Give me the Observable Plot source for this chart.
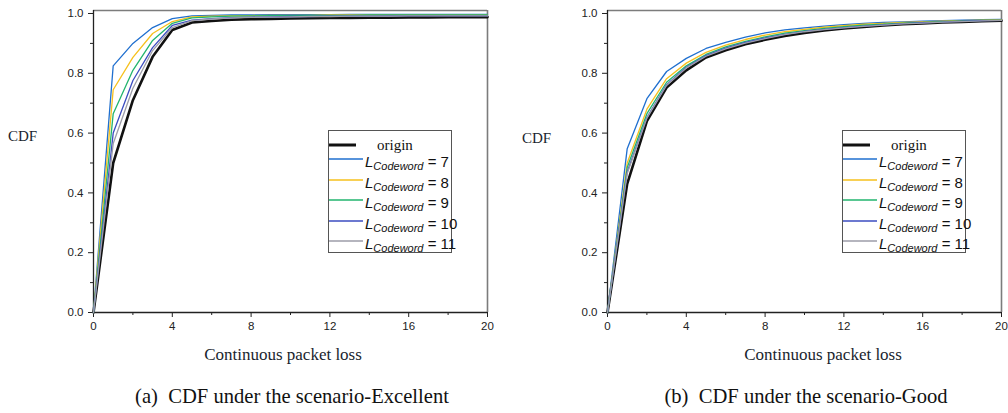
<!DOCTYPE html>
<html>
<head>
<meta charset="utf-8">
<script src="https://cdn.jsdelivr.net/npm/d3@7"></script>
<script src="https://cdn.jsdelivr.net/npm/@observablehq/plot@0.6"></script>
<style>
  html, body { margin: 0; padding: 0; background: #fff; }
  #fig { position: relative; width: 1008px; height: 413px; overflow: hidden; background: #fff; }
  .abs { position: absolute; white-space: pre; }
  .serif { font-family: "Liberation Serif", "Times New Roman", serif; color: #1a1f2e; }
  .ylab { font-size: 15px; line-height: 15px; }
  .xlab { font-size: 17px; line-height: 17px; transform: translate(-50%, -50%); }
  .cap { font-size: 20.6px; line-height: 21px; color: #111; transform: translate(-50%, -50%); }
  .legend { position: absolute; top: 130px; width: 124px; height: 123px; border: 1px solid #555; box-sizing: border-box; background: #fff; }
  .lrow { position: absolute; transform: translateY(-50%); font-family: "Liberation Sans", Arial, sans-serif; font-size: 15px; color: #111; white-space: pre; }
  .lrow sub { font-size: 11px; vertical-align: -3px; line-height: 0; }
  .orow { position: absolute; transform: translateY(-50%); font-family: "Liberation Serif", serif; font-size: 15px; color: #111; }
</style>
</head>
<body>
<div id="fig"></div>
<script>
// Consecutive-loss length on the x axis
const lossLength = [0, 1, 2, 3, 4, 5, 6, 7, 8, 9, 10, 11, 12, 13, 14, 15, 16, 17, 18, 19, 20];

// Series: the original stream and five codeword lengths
const seriesKeys = ["origin", "7", "8", "9", "10", "11"];
const seriesColors = ["#111111", "#1f6fcf", "#f6c01c", "#22b46e", "#3b4cc0", "#9d9da8"];

// Scenario "Excellent"
const excOrigin = [0, 0.50, 0.71, 0.855, 0.945, 0.970, 0.975, 0.979, 0.981, 0.982, 0.983, 0.984, 0.985, 0.985, 0.986, 0.986, 0.987, 0.987, 0.988, 0.988, 0.988];
const excL7     = [0, 0.825, 0.90, 0.953, 0.983, 0.992, 0.994, 0.995, 0.995, 0.996, 0.996, 0.996, 0.996, 0.997, 0.997, 0.997, 0.997, 0.997, 0.997, 0.997, 0.997];
const excL8     = [0, 0.745, 0.853, 0.933, 0.973, 0.989, 0.991, 0.992, 0.993, 0.994, 0.994, 0.994, 0.995, 0.995, 0.995, 0.995, 0.995, 0.995, 0.995, 0.995, 0.995];
const excL9     = [0, 0.665, 0.81, 0.91, 0.967, 0.985, 0.989, 0.991, 0.992, 0.993, 0.993, 0.994, 0.994, 0.994, 0.995, 0.995, 0.995, 0.995, 0.995, 0.995, 0.995];
const excL10    = [0, 0.60, 0.776, 0.886, 0.96, 0.978, 0.983, 0.986, 0.988, 0.989, 0.99, 0.99, 0.991, 0.991, 0.991, 0.992, 0.992, 0.992, 0.992, 0.992, 0.992];
const excL11    = [0, 0.565, 0.75, 0.876, 0.953, 0.976, 0.982, 0.985, 0.987, 0.988, 0.989, 0.99, 0.99, 0.991, 0.991, 0.991, 0.992, 0.992, 0.992, 0.992, 0.992];

// Scenario "Good"
const goodOrigin = [0, 0.43, 0.64, 0.752, 0.81, 0.853, 0.877, 0.897, 0.912, 0.925, 0.935, 0.943, 0.95, 0.955, 0.96, 0.964, 0.967, 0.970, 0.972, 0.974, 0.976];
const goodL7     = [0, 0.548, 0.715, 0.806, 0.85, 0.883, 0.903, 0.921, 0.935, 0.945, 0.952, 0.958, 0.963, 0.967, 0.970, 0.972, 0.974, 0.976, 0.978, 0.979, 0.980];
const goodL8     = [0, 0.50, 0.68, 0.782, 0.834, 0.87, 0.894, 0.913, 0.928, 0.939, 0.947, 0.954, 0.959, 0.964, 0.967, 0.970, 0.972, 0.974, 0.976, 0.978, 0.979];
const goodL9     = [0, 0.485, 0.665, 0.77, 0.825, 0.863, 0.888, 0.907, 0.922, 0.934, 0.943, 0.950, 0.956, 0.961, 0.964, 0.968, 0.970, 0.973, 0.975, 0.977, 0.978];
const goodL10    = [0, 0.47, 0.652, 0.762, 0.82, 0.859, 0.884, 0.903, 0.918, 0.930, 0.940, 0.947, 0.953, 0.958, 0.962, 0.966, 0.969, 0.971, 0.974, 0.976, 0.977];
const goodL11    = [0, 0.465, 0.65, 0.76, 0.818, 0.857, 0.882, 0.901, 0.916, 0.929, 0.939, 0.946, 0.952, 0.957, 0.961, 0.965, 0.968, 0.971, 0.973, 0.975, 0.977];

// Axis ticks
const xMajor = [0, 4, 8, 12, 16, 20];
const xMinor = [2, 6, 10, 14, 18];
const yMajor = [0, 0.2, 0.4, 0.6, 0.8, 1.0];
const yMinor = [0.1, 0.3, 0.5, 0.7, 0.9];

// Text
const yTitle = "CDF";
const xTitle = "Continuous packet loss";
const captions = ["(a)  CDF under the scenario-Excellent", "(b)  CDF under the scenario-Good"];

const fig = document.getElementById("fig");

function toRows(seriesValues) {
  const rows = [];
  seriesKeys.forEach((key, i) => {
    seriesValues[i].forEach((v, j) => rows.push({key, loss: lossLength[j], cdf: v}));
  });
  return rows;
}

function panel(seriesValues, offsetX) {
  const rows = toRows(seriesValues);
  const base = rows.filter(d => d.key === "origin");
  const coded = rows.filter(d => d.key !== "origin");
  const chart = Plot.plot({
    width: 500,
    height: 340,
    marginLeft: 93,
    marginRight: 13,
    marginTop: 10,
    marginBottom: 28,
    x: {domain: [0, 20], axis: null},
    y: {domain: [0, 1.01], axis: null},
    color: {domain: seriesKeys, range: seriesColors},
    style: {fontFamily: "'Liberation Sans', Arial, sans-serif", fontSize: "11.5px", color: "#222", background: "transparent", overflow: "visible"},
    marks: [
      Plot.ruleY([1.01], {stroke: "#7c7c7c", strokeWidth: 1.6}),
      Plot.ruleX([20], {stroke: "#7c7c7c", strokeWidth: 1.6}),
      Plot.axisX(xMajor, {tickSize: 5, tickPadding: 4, tickFormat: d => String(d), stroke: "#222", fill: "#222", label: null}),
      Plot.axisX(xMinor, {tickSize: 3, tickFormat: () => "", stroke: "#222", label: null}),
      Plot.axisY(yMajor, {tickSize: 5, tickPadding: 5, tickFormat: d3.format(".1f"), stroke: "#222", fill: "#222", label: null}),
      Plot.axisY(yMinor, {tickSize: 3, tickFormat: () => "", stroke: "#222", label: null}),
      Plot.ruleX([0], {stroke: "#222", strokeWidth: 1.3}),
      Plot.ruleY([0], {stroke: "#222", strokeWidth: 1.3}),
      Plot.line(base, {x: "loss", y: "cdf", z: "key", stroke: "key", strokeWidth: 2.6, strokeLinejoin: "miter"}),
      Plot.line(coded, {x: "loss", y: "cdf", z: "key", stroke: "key", strokeWidth: 1.3, strokeLinejoin: "miter"})
    ]
  });
  chart.style.position = "absolute";
  chart.style.left = offsetX + "px";
  chart.style.top = "0px";
  fig.appendChild(chart);
}

function legend(left) {
  const box = document.createElement("div");
  box.className = "legend";
  box.style.left = left + "px";
  seriesKeys.forEach((key, i) => {
    const isBase = key === "origin";
    const cy = isBase ? 14 : 28 + (i - 1) * 20.5;
    const len = isBase ? 27 : 34;
    const svg = document.createElementNS("http://www.w3.org/2000/svg", "svg");
    svg.setAttribute("width", len);
    svg.setAttribute("height", 6);
    svg.style.cssText = `position:absolute;left:0;top:${cy - 3}px`;
    const ln = document.createElementNS("http://www.w3.org/2000/svg", "line");
    ln.setAttribute("x1", 0); ln.setAttribute("x2", len);
    ln.setAttribute("y1", 3); ln.setAttribute("y2", 3);
    ln.setAttribute("stroke", seriesColors[i]);
    ln.setAttribute("stroke-width", isBase ? 3 : 1.4);
    svg.appendChild(ln);
    box.appendChild(svg);
    const t = document.createElement("div");
    if (isBase) {
      t.className = "orow";
      t.style.left = "48px";
      t.style.top = cy + "px";
      t.textContent = "origin";
    } else {
      t.className = "lrow";
      t.style.left = "36px";
      t.style.top = (cy + 2) + "px";
      t.innerHTML = `<i>L</i><sub><i>Codeword</i></sub> = ${key}`;
    }
    box.appendChild(t);
  });
  fig.appendChild(box);
}

function text(cls, content, x, y) {
  const el = document.createElement("div");
  el.className = "abs " + cls;
  el.style.left = x + "px";
  el.style.top = y + "px";
  el.textContent = content;
  fig.appendChild(el);
}

panel([excOrigin, excL7, excL8, excL9, excL10, excL11], 0);
panel([goodOrigin, goodL7, goodL8, goodL9, goodL10, goodL11], 514);

legend(328);
legend(842);

text("serif ylab", yTitle, 8, 129);
text("serif ylab", yTitle, 522, 131);
text("serif xlab", xTitle, 283, 354);
text("serif xlab", xTitle, 823, 354);
text("serif cap", captions[0], 292, 396);
text("serif cap", captions[1], 806, 396);
</script>
</body>
</html>
